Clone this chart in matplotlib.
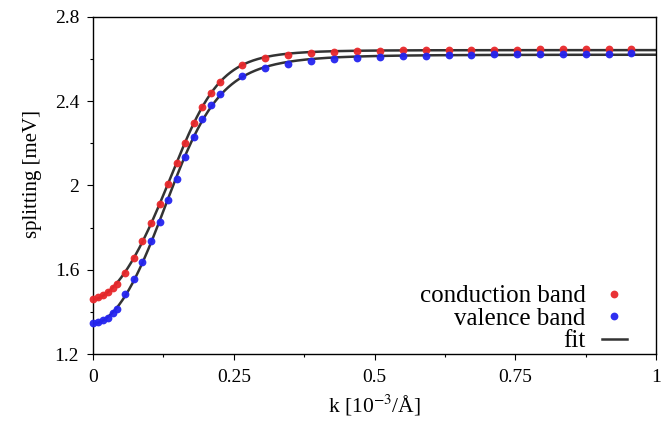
import matplotlib
matplotlib.use("Agg")
import matplotlib.pyplot as plt
from matplotlib.ticker import MultipleLocator, FormatStrFormatter
import numpy as np

# k grid [10^-3/A]
k = [0.000, 0.0089, 0.0178, 0.0266, 0.0355, 0.0430, 0.0572, 0.0723, 0.0874,
     0.1025, 0.1185, 0.1339, 0.1487, 0.1641, 0.1789, 0.1943, 0.2091, 0.2251,
     0.2654, 0.3055, 0.3471, 0.3879, 0.4285, 0.4691, 0.5097, 0.5503, 0.5909,
     0.6315, 0.6721, 0.7127, 0.7533, 0.7939, 0.8345, 0.8751, 0.9157, 0.9563]

# splitting [meV]
conduction = [1.461, 1.472, 1.481, 1.493, 1.512, 1.531, 1.586, 1.654, 1.738,
              1.820, 1.912, 2.008, 2.107, 2.203, 2.295, 2.374, 2.441, 2.491,
              2.571, 2.604, 2.620, 2.629, 2.634, 2.637, 2.639, 2.641, 2.642,
              2.643, 2.644, 2.645, 2.645, 2.646, 2.646, 2.647, 2.647, 2.647]
valence = [1.348, 1.353, 1.361, 1.372, 1.393, 1.412, 1.485, 1.555, 1.635,
           1.735, 1.827, 1.931, 2.032, 2.134, 2.229, 2.314, 2.381, 2.434,
           2.520, 2.559, 2.578, 2.591, 2.601, 2.607, 2.611, 2.615, 2.617,
           2.619, 2.621, 2.622, 2.623, 2.624, 2.625, 2.626, 2.626, 2.627]


def step(t, x0, p, q):
    r = (t / x0) ** p
    return (r / (1.0 + r)) ** q


def fit(x, y):
    # a + b * (x^p / (x0^p + x^p))^q ; grid over x0, p, q, a and b by least squares
    x = np.asarray(x)
    y = np.asarray(y)
    x0s = np.linspace(0.10, 0.30, 81)[:, None, None, None]
    ps = np.linspace(2.0, 9.0, 57)[None, :, None, None]
    qs = np.linspace(0.2, 1.5, 53)[None, None, :, None]
    s = step(x[None, None, None, :], x0s, ps, qs)
    sm = s.mean(-1, keepdims=True)
    ym = y.mean()
    b = ((s - sm) * (y - ym)).sum(-1, keepdims=True) / ((s - sm) ** 2).sum(-1, keepdims=True)
    a = ym - b * sm
    r = ((a + b * s - y) ** 2).sum(-1)
    i, j, m = np.unravel_index(np.argmin(r), r.shape)
    x0, p, q = x0s.ravel()[i], ps.ravel()[j], qs.ravel()[m]
    aa, bb = a[i, j, m, 0], b[i, j, m, 0]
    return lambda t: aa + bb * step(t, x0, p, q)


plt.rcParams['font.family'] = ['Liberation Serif', 'DejaVu Serif']
plt.rcParams['mathtext.fontset'] = 'stix'

fig = plt.figure(figsize=(6.72, 4.29), dpi=100)
ax = fig.add_axes([0.1384, 0.1748, 0.8378, 0.7856])

kk = np.linspace(0, 1, 500)
line_col = '#333333'
ax.plot(kk, fit(k, conduction)(kk), color=line_col, lw=1.8, zorder=2)
ax.plot(kk, fit(k, valence)(kk), color=line_col, lw=1.8, zorder=2, label='fit')
ax.plot(k, conduction, 'o', color='#e8282b', ms=5.6, mew=0, alpha=0.95,
        clip_on=False, zorder=3, label='conduction band')
ax.plot(k, valence, 'o', color='#2424f0', ms=5.6, mew=0, alpha=0.95,
        clip_on=False, zorder=3, label='valence band')

ax.set_xlim(0, 1)
ax.set_ylim(1.2, 2.8)
ax.xaxis.set_major_locator(MultipleLocator(0.25))
ax.xaxis.set_minor_locator(MultipleLocator(0.125))
ax.yaxis.set_major_locator(MultipleLocator(0.4))
ax.yaxis.set_minor_locator(MultipleLocator(0.2))
ax.xaxis.set_major_formatter(FormatStrFormatter('%g'))
ax.yaxis.set_major_formatter(FormatStrFormatter('%g'))
ax.tick_params(which='both', direction='out', top=False, right=False,
               labelsize=14, width=0.8)
ax.tick_params(axis='x', pad=7)
ax.tick_params(axis='y', pad=6)
ax.tick_params(which='major', length=4)
ax.tick_params(which='minor', length=2.5)
for sp in ax.spines.values():
    sp.set_linewidth(1.0)

ax.set_xlabel(r'k [10$^{-3}$/Å]', fontsize=15.5, labelpad=5)
ax.set_ylabel('splitting [meV]', fontsize=15, labelpad=9)
ax.yaxis.label.set_y(0.535)

h, l = ax.get_legend_handles_labels()
order = [1, 2, 0]
ax.legend([h[i] for i in order], [l[i] for i in order], loc='lower right',
          frameon=False, markerfirst=False, fontsize=18, handlelength=1.0,
          handletextpad=0.65, labelspacing=0.0, borderpad=0,
          borderaxespad=0, bbox_to_anchor=(0.948, 0.005))

fig.savefig('out.png', dpi=100)
